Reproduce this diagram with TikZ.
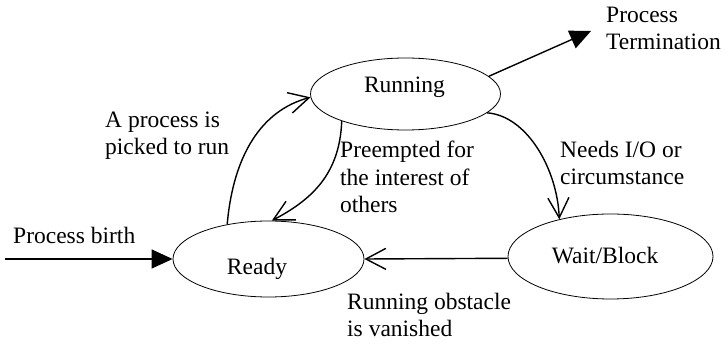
\documentclass[tikz,border=0pt]{standalone}
\usepackage{fontspec}
\setmainfont{Liberation Serif}
\usetikzlibrary{arrows.meta,shapes.geometric}
\begin{document}
\begin{tikzpicture}[x=1pt,y=-1pt,
  state/.style={ellipse,draw,line width=0.8pt,inner sep=0pt},
  statetext/.style={font=\fontsize{23.5}{27.5}\selectfont,inner sep=0pt,anchor=base},
  lbl/.style={font=\fontsize{23.5}{27.5}\selectfont,inner sep=0pt,anchor=base west,align=left},
  conn/.style={line width=1.4pt},
  openarrow/.style={conn,-{Straight Barb[length=20pt,width=21pt]}},
  filledarrow/.style={conn,-{Triangle[length=21pt,width=19pt]}}
]
\useasboundingbox (0,0) rectangle (726,344);

% states
\node[state,minimum width=190pt,minimum height=72pt] (running) at (405.5,94) {};
\node[state,minimum width=191pt,minimum height=76pt] (ready) at (268.5,259) {};
\node[state,minimum width=205pt,minimum height=85pt] (wait) at (610.5,256.5) {};
\node[statetext] (runningtext) at (404.5,93) {Running};
\node[statetext] (readytext) at (257,275) {Ready};
\node[statetext] (waittext) at (605,264) {Wait/Block};

% free ends
\coordinate (birth) at (5,259);
\coordinate (exit) at (591,31);

% transitions
\draw[filledarrow] (birth) -- (ready.west);
\draw[filledarrow] (running.12) -- (exit);
\draw[openarrow] (ready.140) .. controls +(6,-69) and +(-49,13) .. (running.182);
\draw[openarrow] (running.203) .. controls +(-2,53) and +(40,-21) .. (ready.85);
\draw[openarrow] (running.-13) .. controls +(40,3) and +(-2,-50) .. (wait.144);
\draw[openarrow] (wait.181) -- (ready.east);

% transition labels (multi-line nodes sit on their last baseline)
\node[lbl] (birthlbl) at (13,244) {Process birth};
\node[lbl] (pickedlbl) at (105,155) {A process is\\picked to run};
\node[lbl] (preemptlbl) at (340,213) {Preempted for\\the interest of\\others};
\node[lbl] (needslbl) at (560,185) {Needs I/O or\\circumstance};
\node[lbl] (obstaclelbl) at (347,337) {Running obstacle\\is vanished};
\node[lbl] (termlbl) at (606,50) {Process\\Termination};
\end{tikzpicture}
\end{document}
